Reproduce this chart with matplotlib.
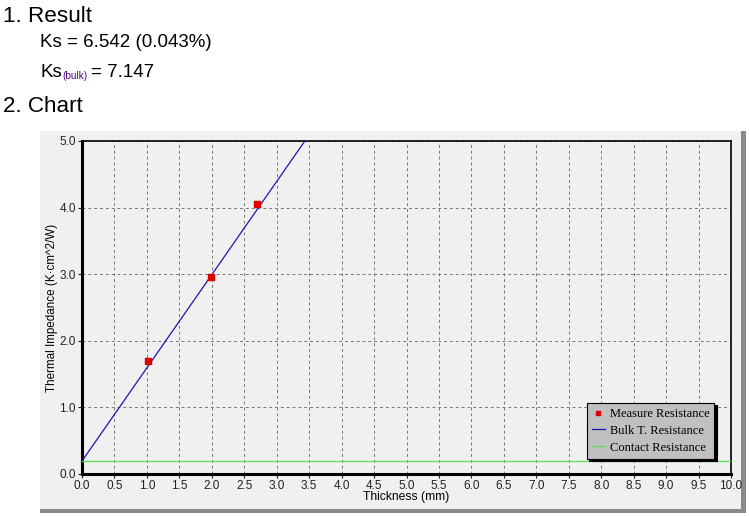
import numpy as np
import matplotlib
matplotlib.use('Agg')
import matplotlib.pyplot as plt
from matplotlib.patches import Rectangle

# measured points (thickness mm, impedance K·cm^2/W)
thickness = [1.02, 1.98, 2.70]
impedance = [1.69, 2.96, 4.05]

ks = 6.542
ks_err = 0.043
ks_bulk = 7.147
contact_r = 0.195

x_ticks = np.arange(0, 10.01, 0.5)
y_ticks = np.arange(0, 5.01, 1.0)

W, H = 749, 516
fig = plt.figure(figsize=(W / 100, H / 100), dpi=100)
fig.patch.set_facecolor('white')

def px(x0, y0, x1, y1):
    # pixel box -> figure fraction box
    return (x0 / W, 1 - y1 / H, (x1 - x0) / W, (y1 - y0) / H)

# chart panel with darker border right/bottom
x, y, w, h = px(40, 131, 746, 513)
fig.add_artist(Rectangle((x, y), w, h, transform=fig.transFigure, facecolor='#8a8a8a',
                         edgecolor='none', zorder=-2))
x, y, w, h = px(40, 131, 741, 509)
fig.add_artist(Rectangle((x, y), w, h, transform=fig.transFigure, facecolor='#f0f0f0',
                         edgecolor='none', zorder=-1))

sans = 'Liberation Sans'
fig.text(3 / W, 1 - 22 / H, '1. Result', fontsize=16.2, family=sans, color='black')
fig.text(40 / W, 1 - 47 / H, f'Ks = {ks:.3f} ({ks_err:.3f}%)', fontsize=13.5, family=sans)
fig.text(40 / W, 1 - 77 / H, 'Ks', fontsize=13.5, family=sans)
fig.text(62 / W, 1 - 79 / H, '(bulk)', fontsize=7.2, family=sans, color='#4b0082')
fig.text(91 / W, 1 - 77 / H, f'= {ks_bulk:.3f}', fontsize=13.5, family=sans)
fig.text(3 / W, 1 - 112 / H, '2. Chart', fontsize=16.2, family=sans)

ax = fig.add_axes(px(82, 141, 731, 474))
ax.set_facecolor('#f0f0f0')

ax.scatter(thickness, impedance, marker='s', s=13, color='#dd0000', zorder=4, label='Measure Resistance')
xl = np.array([0, 10])
ax.plot(xl, contact_r + xl * 10 / ks_bulk, color='#1818b0', lw=0.9, zorder=3, label='Bulk T. Resistance')
ax.axhline(contact_r, color='#55e055', lw=0.9, zorder=3, label='Contact Resistance')

ax.set_xlim(0, 10)
ax.set_ylim(0, 5)
ax.set_xticks(x_ticks)
ax.set_yticks(y_ticks)
ax.set_xticklabels([f'{v:.1f}' for v in x_ticks])
ax.set_yticklabels([f'{v:.1f}' for v in y_ticks])
ax.tick_params(labelsize=8.5, colors='#222222', length=3, width=0.8, pad=1.5)
for lab in ax.get_xticklabels() + ax.get_yticklabels():
    lab.set_family(sans)
ax.grid(True, color='#777777', linestyle=(0, (3, 3)), lw=0.7)
ax.set_axisbelow(True)

ax.spines['left'].set_linewidth(2.2)
ax.spines['bottom'].set_linewidth(2.2)
ax.spines['top'].set_linewidth(1.2)
ax.spines['right'].set_linewidth(1.2)

ax.set_xlabel('Thickness (mm)', fontsize=8.7, family=sans, labelpad=-1)
ax.set_ylabel('Thermal Impedance (K·cm^2/W)', fontsize=8.4, family=sans)
ax.yaxis.set_label_coords(-0.037, 0.5)

leg = ax.legend(loc='lower right', bbox_to_anchor=(0.98, 0.035), frameon=True, fancybox=False,
                facecolor='#c0c0c0', edgecolor='black', framealpha=1,
                prop={'family': 'Liberation Serif', 'size': 9}, handlelength=1.1,
                handletextpad=0.35, borderpad=0.4, labelspacing=0.4, markerscale=0.8,
                borderaxespad=0.3, shadow={'color': 'black', 'alpha': 1})
leg.get_frame().set_linewidth(0.8)

fig.savefig('out.png', dpi=100)
